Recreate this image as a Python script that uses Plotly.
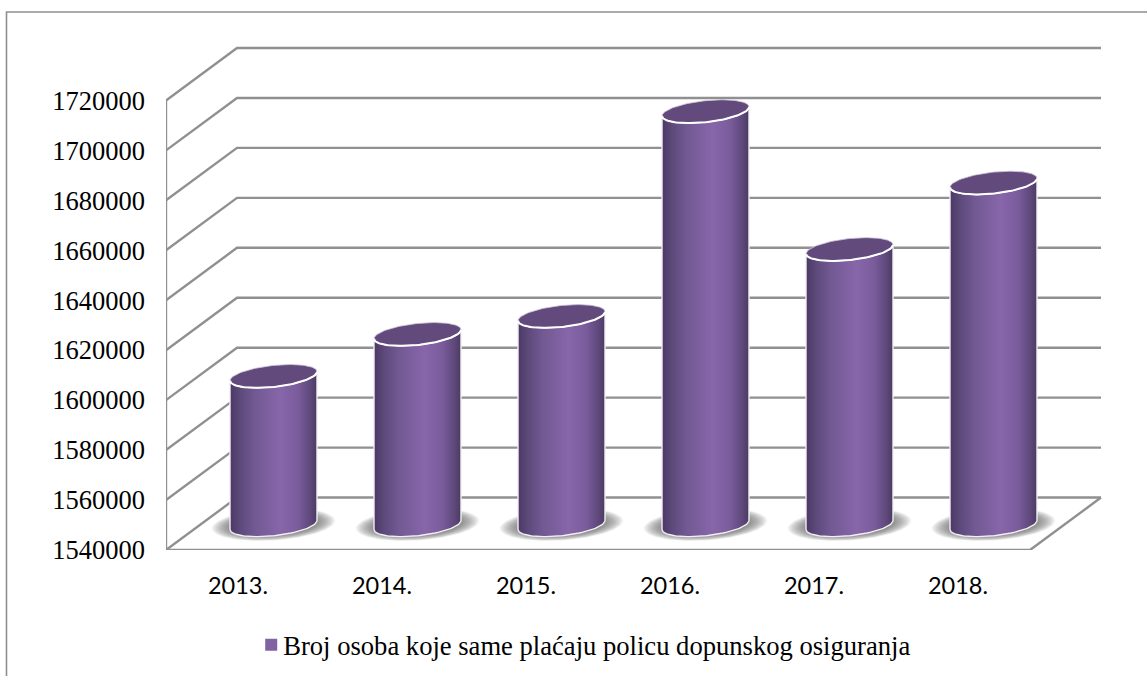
import numpy as np
import plotly.graph_objects as go

years = ["2013.", "2014.", "2015.", "2016.", "2017.", "2018."]
values = [1599600, 1616400, 1623600, 1705600, 1650400, 1677000]
tick_values = [1540000, 1560000, 1580000, 1600000, 1620000, 1640000, 1660000, 1680000, 1700000, 1720000]
tick_labels = [str(v) for v in tick_values]
series_name = "Broj osoba koje same plaćaju policu dopunskog osiguranja"

W, H = 1147, 676
L, T, B, R = 166, 37.5, 126, 45
PW, PH = W - L - R, H - T - B
Y0, Y1 = 1540000, 1745000
X0, X1 = -0.5, 6.0
DX, DY = 71 / 144, 21000  # oblique depth of the 3D box
GREY = "#909090"

fig = go.Figure()

# walls and floor, derived from the axis ticks
gx, gy = [], []
front_r = len(years) - 0.5
for v in tick_values:
    gx += [X0, X0 + DX, front_r + DX, None]
    gy += [v, v + DY, v + DY, None]
gx += [X0, X0, None, X0, front_r, front_r + DX]
gy += [tick_values[-1], tick_values[0], None, tick_values[0], tick_values[0], tick_values[0] + DY]
fig.add_trace(go.Scatter(x=gx, y=gy, mode="lines", line=dict(color=GREY, width=2.4),
                         showlegend=False, hoverinfo="skip"))

A, B_E, S = 0.302, 4300, 1800  # ellipse half width, half depth, tilt
t = np.linspace(0, 2 * np.pi, 121)
GRAD = [[0, "#4b3963"], [0.12, "#5e4a7b"], [0.3, "#735a94"], [0.58, "#8766aa"],
        [0.78, "#7a5c9c"], [0.93, "#5d4779"], [1, "#4b3a62"]]

for i, v in enumerate(values):
    cx = i + DX / 2
    lift = DY / 2 - 500          # cylinder stands mid-way into the depth
    base = Y0 + lift
    top = v + lift
    # floor shadow
    for k in np.linspace(1.42, 1.0, 14):
        sx = cx + k * A * np.cos(t)
        sy = base + 200 + k * (S * np.cos(t) * 0.6 + B_E * 1.05 * np.sin(t))
        fig.add_trace(go.Scatter(x=sx, y=sy, mode="lines", fill="toself", line=dict(width=0),
                                 fillcolor="rgba(90,90,90,0.07)", showlegend=False, hoverinfo="skip"))
    # body: lower arc of top, side, lower arc of base
    lo = np.linspace(np.pi, 2 * np.pi, 61)
    px = A * np.cos(lo) + cx
    off = S * np.cos(lo) + B_E * np.sin(lo)
    bx = np.concatenate([px, px[::-1], px[:1]])
    by = np.concatenate([base + off, (top + off)[::-1], (base + off)[:1]])
    fig.add_trace(go.Scatter(x=bx, y=by, mode="lines", fill="toself",
                             line=dict(color="#f1eef5", width=1.4),
                             fillgradient=dict(type="horizontal", colorscale=GRAD),
                             showlegend=False, hoverinfo="skip"))
    # cap
    fig.add_trace(go.Scatter(x=cx + A * np.cos(t), y=top + S * np.cos(t) + B_E * np.sin(t),
                             mode="lines", fill="toself", fillcolor="#624b7c",
                             line=dict(color="#cfc7da", width=0.8), showlegend=False, hoverinfo="skip"))
    # white lower rim of the cap
    fig.add_trace(go.Scatter(x=px, y=top + off, mode="lines", line=dict(color="#ffffff", width=2),
                             showlegend=False, hoverinfo="skip"))

# legend entry
fig.add_trace(go.Scatter(x=[None], y=[None], mode="markers", name=series_name,
                         marker=dict(symbol="square", size=12, color="#8064a2")))

px_x = lambda p: (p - L) / PW
px_y = lambda p: (H - B - p) / PH

fig.update_layout(
    width=W, height=H, autosize=False,
    margin=dict(l=L, r=R, t=T, b=B, pad=0),
    paper_bgcolor="white", plot_bgcolor="white",
    xaxis=dict(range=[X0, X1], tickmode="array", tickvals=list(range(len(years))), ticktext=years,
               showgrid=False, zeroline=False, showline=False, ticks="", ticklabelstandoff=19,
               tickfont=dict(family="Lato", size=23.5, color="black")),
    yaxis=dict(range=[Y0, Y1], tickmode="array", tickvals=tick_values, ticktext=tick_labels,
               showgrid=False, zeroline=False, showline=False, ticks="", ticklabelstandoff=20,
               tickfont=dict(family="Liberation Serif", size=26.5, color="black")),
    showlegend=True,
    legend=dict(orientation="h", x=0.442, xref="paper", xanchor="center", y=-0.215, yanchor="bottom",
                font=dict(family="Liberation Serif", size=26.6, color="black"),
                bgcolor="rgba(0,0,0,0)", itemwidth=30),
    shapes=[dict(type="path", xref="paper", yref="paper", layer="below",
                 path=f"M {px_x(6.5)} {px_y(H)} L {px_x(6.5)} {px_y(11.5)} L {px_x(W)} {px_y(11.5)}",
                 line=dict(color="#8f8f8f", width=1.6))],
)

fig.write_html(
    "out.html",
    config={"displayModeBar": False},
    post_script=("document.body.style.margin='0';document.body.style.overflow='hidden';"
                 "document.querySelectorAll('.legendpoints').forEach(function(g){"
                 "g.setAttribute('transform',(g.getAttribute('transform')||'')+' translate(8,0)');});"
                 "document.querySelectorAll('g.legend').forEach(function(g){"
                 "g.setAttribute('transform',(g.getAttribute('transform')||'')+' translate(0,9)');});"),
)
